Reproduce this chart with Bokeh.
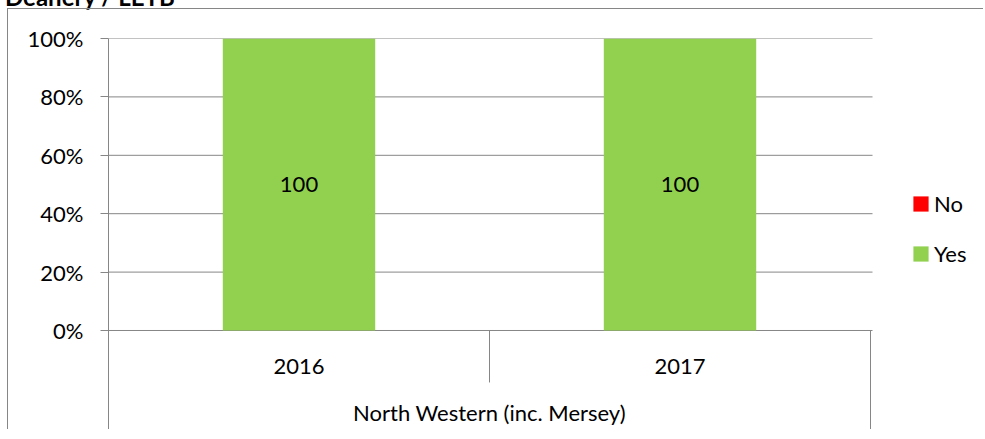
from bokeh.plotting import figure
from bokeh.models import (ColumnDataSource, Range1d, FixedTicker, NumeralTickFormatter,
                          Legend, LegendItem, Div)
from bokeh.layouts import column
from bokeh.core.properties import value
from bokeh.embed import file_html
from bokeh.resources import INLINE

# ---- data ----
title_text = "Deanery / LETB"
group_label = "North Western (inc. Mersey)"
years = ["2016", "2017"]
yes_pct = [100, 100]
no_pct = [0, 0]
y_ticks = [0, 0.2, 0.4, 0.6, 0.8, 1.0]

# ---- style ----
FONT = "Lato"
FS = "22px"
GRID = "#868686"
GREEN = "#92D050"
RED = "#FF0000"

n = len(years)
xs = [i + 0.5 for i in range(n)]
src = ColumnDataSource(dict(
    x=xs,
    yes=[v / 100 for v in yes_pct],
    no=[v / 100 for v in no_pct],
    mid=[v / 200 for v in yes_pct],
    lab=[str(v) for v in yes_pct],
    year=years,
))

PX_PER_CAT = 381.0
FRAME_W = 876
X_END = FRAME_W / PX_PER_CAT
X_AXIS_END = n + 2 / PX_PER_CAT
Y_BOTTOM = -0.3425

p = figure(width=976, height=421, output_backend="svg", toolbar_location=None,
           x_range=Range1d(0, X_END), y_range=Range1d(Y_BOTTOM, 1.0),
           min_border_left=100, min_border_right=0, min_border_top=29, min_border_bottom=0,
           styles={"border-top": "1px solid #868686", "border-left": "1px solid #868686",
                   "margin-left": "7px"})
p.outline_line_color = None
p.xaxis.visible = False
p.xgrid.visible = False
p.ygrid.visible = False

ya = p.yaxis[0]
ya.ticker = FixedTicker(ticks=y_ticks)
ya.formatter = NumeralTickFormatter(format="0%")
ya.axis_line_color = GRID
ya.major_tick_line_color = GRID
ya.major_tick_out = 8
ya.major_tick_in = 0
ya.minor_tick_line_color = None
ya.major_label_standoff = 17
ya.major_label_text_font = FONT
ya.major_label_text_font_size = FS
ya.major_label_text_color = "black"

# horizontal gridlines limited to the plot area
p.segment(x0=[0] * len(y_ticks), x1=[X_AXIS_END] * len(y_ticks), y0=y_ticks, y1=y_ticks,
          line_color=GRID, line_width=1)

rs = p.vbar_stack(["yes", "no"], x="x", width=0.4, source=src,
                  fill_color=[GREEN, RED], line_color=None)
yes_r, no_r = rs

# value labels
p.text(x="x", y="mid", text="lab", source=src, text_align="center", text_baseline="middle",
       text_font=value(FONT), text_font_size=FS, text_color="black")

# category labels
p.text(x="x", y=-0.123, text="year", source=src, text_align="center", text_baseline="middle",
       text_font=value(FONT), text_font_size=FS, text_color="black")
p.text(x=[n / 2], y=[-0.281], text=[group_label], text_align="center", text_baseline="middle",
       text_font=value(FONT), text_font_size=FS, text_color="black")

# category separators
inner = list(range(1, n))
p.segment(x0=inner, y0=[0] * len(inner), x1=inner, y1=[-0.178] * len(inner),
          line_color=GRID, line_width=1)
p.segment(x0=[n], y0=[0], x1=[n], y1=[Y_BOTTOM], line_color=GRID, line_width=1)

legend = Legend(items=[LegendItem(label="No", renderers=[no_r]),
                       LegendItem(label="Yes", renderers=[yes_r])],
                location=(803, 163), orientation="vertical",
                glyph_width=19, glyph_height=19, label_standoff=4,
                label_text_font=FONT, label_text_font_size=FS, label_text_color="black",
                label_height=26, spacing=23, padding=0, margin=0,
                border_line_color=None, background_fill_alpha=0)
p.add_layout(legend)

title = Div(text=title_text, width=400, height=23,
            styles={"font-family": "Lato", "font-weight": "bold", "font-size": "24px",
                    "line-height": "23px", "margin-top": "-20px",
                    "transform": "translateY(5px)"})

layout = column(title, p, spacing=0)

open("out.html", "w").write(file_html(layout, INLINE))
